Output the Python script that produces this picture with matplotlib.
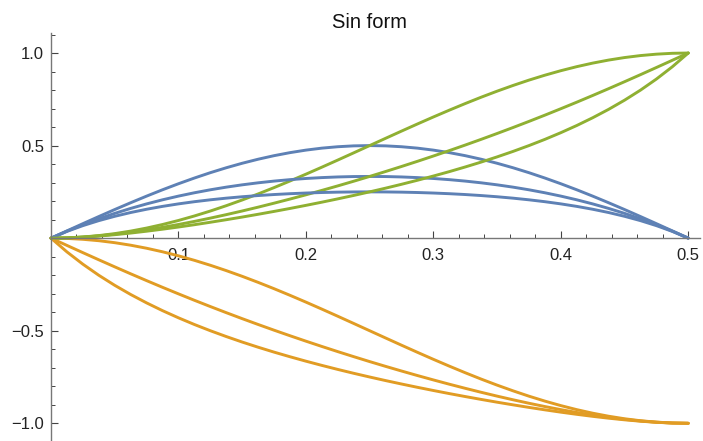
import matplotlib
matplotlib.use("Agg")
import matplotlib.pyplot as plt
from matplotlib.ticker import FixedLocator

plt.rcParams['font.family'] = ['Liberation Sans', 'DejaVu Sans']

# values (x from 0 to 0.5)
x = [0, 0.0125, 0.025, 0.0375, 0.05, 0.0625, 0.075, 0.0875, 0.1, 0.1125, 0.125,
     0.1375, 0.15, 0.1625, 0.175, 0.1875, 0.2, 0.2125, 0.225, 0.2375, 0.25,
     0.2625, 0.275, 0.2875, 0.3, 0.3125, 0.325, 0.3375, 0.35, 0.3625, 0.375,
     0.3875, 0.4, 0.4125, 0.425, 0.4375, 0.45, 0.4625, 0.475, 0.4875, 0.5]

blue_a = [0, .0392, .0782, .1167, .1545, .1913, .2270, .2613, .2939, .3247, .3536,
          .3802, .4045, .4263, .4455, .4619, .4755, .4862, .4938, .4985, .5,
          .4985, .4938, .4862, .4755, .4619, .4455, .4263, .4045, .3802, .3536,
          .3247, .2939, .2613, .2270, .1913, .1545, .1167, .0782, .0392, 0]
blue_b = [0, .0378, .0725, .1045, .1338, .1606, .1850, .2071, .2271, .2451, .2612,
          .2755, .2880, .2989, .3082, .3160, .3223, .3271, .3306, .3327, .3333,
          .3327, .3306, .3271, .3223, .3160, .3082, .2989, .2880, .2755, .2612,
          .2451, .2271, .2071, .1850, .1606, .1338, .1045, .0725, .0378, 0]
blue_c = [0, .0364, .0676, .0946, .1180, .1384, .1561, .1716, .1851, .1969, .2071,
          .2160, .2236, .2301, .2356, .2401, .2437, .2465, .2485, .2496, .25,
          .2496, .2485, .2465, .2437, .2401, .2356, .2301, .2236, .2160, .2071,
          .1969, .1851, .1716, .1561, .1384, .1180, .0946, .0676, .0364, 0]

green_a = [0, .0015, .0062, .0138, .0245, .0381, .0545, .0737, .0955, .1198, .1464,
           .1753, .2061, .2388, .2730, .3087, .3455, .3833, .4218, .4608, .5,
           .5392, .5782, .6167, .6545, .6913, .7270, .7613, .7939, .8247, .8536,
           .8802, .9045, .9263, .9455, .9619, .9755, .9862, .9938, .9985, 1.0]
green_b = [0, .0015, .0057, .0124, .0212, .0319, .0444, .0584, .0738, .0904, .1082,
           .1270, .1467, .1674, .1889, .2111, .2341, .2579, .2823, .3075, .3333,
           .3599, .3871, .4150, .4436, .4729, .5029, .5337, .5653, .5975, .6306,
           .6644, .6991, .7344, .7706, .8074, .8450, .8831, .9218, .9608, 1.0]
green_c = [0, .0014, .0053, .0112, .0187, .0275, .0375, .0484, .0601, .0726, .0858,
           .0996, .1139, .1289, .1444, .1604, .1771, .1943, .2122, .2307, .25,
           .2700, .2909, .3127, .3355, .3593, .3845, .4109, .4389, .4685, .5000,
           .5336, .5697, .6084, .6503, .6957, .7452, .7995, .8594, .9258, 1.0]

orange_a = [0, -.0015, -.0062, -.0138, -.0245, -.0381, -.0545, -.0737, -.0955, -.1198, -.1464,
            -.1753, -.2061, -.2388, -.2730, -.3087, -.3455, -.3833, -.4218, -.4608, -.5,
            -.5392, -.5782, -.6167, -.6545, -.6913, -.7270, -.7613, -.7939, -.8247, -.8536,
            -.8802, -.9045, -.9263, -.9455, -.9619, -.9755, -.9862, -.9938, -.9985, -1.0]
orange_b = [0, -.0392, -.0783, -.1169, -.1550, -.1926, -.2294, -.2656, -.3009, -.3356, -.3694,
            -.4025, -.4348, -.4663, -.4971, -.5271, -.5564, -.5850, -.6129, -.6401, -.6667,
            -.6925, -.7176, -.7421, -.7658, -.7889, -.8111, -.8326, -.8533, -.8730, -.8918,
            -.9096, -.9262, -.9416, -.9556, -.9681, -.9788, -.9876, -.9943, -.9985, -1.0]
orange_c = [0, -.0742, -.1406, -.2005, -.2548, -.3043, -.3497, -.3916, -.4303, -.4664, -.5000,
            -.5315, -.5612, -.5891, -.6156, -.6406, -.6645, -.6873, -.7091, -.7300, -.75,
            -.7693, -.7878, -.8057, -.8229, -.8396, -.8556, -.8711, -.8861, -.9004, -.9142,
            -.9274, -.9399, -.9516, -.9625, -.9725, -.9813, -.9888, -.9947, -.9986, -1.0]

x_major = [0.1, 0.2, 0.3, 0.4, 0.5]
y_major = [-1.0, -0.5, 0.5, 1.0]
title = "Sin form"

BLUE = '#5E81B5'
ORANGE = '#E19C24'
GREEN = '#8FB032'

fig = plt.figure(figsize=(7.03, 4.41), dpi=100)
ax = fig.add_axes([51 / 703, 0.0, 649 / 703, 407.7 / 441])

for b, o, g in [(blue_a, orange_a, green_a), (blue_b, orange_b, green_b), (blue_c, orange_c, green_c)]:
    ax.plot(x, b, color=BLUE, lw=2.1, solid_joinstyle='round', solid_capstyle='round', clip_on=False)
    ax.plot(x, o, color=ORANGE, lw=2.1, solid_joinstyle='round', solid_capstyle='round', clip_on=False)
    ax.plot(x, g, color=GREEN, lw=2.1, solid_joinstyle='round', solid_capstyle='round', clip_on=False)

ax.set_xlim(0, 0.5092)
ax.set_ylim(-1.0957, 1.1065)

# Mathematica-like axes through the origin
ax.spines['left'].set_position(('data', 0))
ax.spines['bottom'].set_position(('data', 0))
ax.spines['top'].set_visible(False)
ax.spines['right'].set_visible(False)
for sp in ['left', 'bottom']:
    ax.spines[sp].set_color('#777777')
    ax.spines[sp].set_linewidth(1.0)

ax.xaxis.set_major_locator(FixedLocator(x_major))
ax.yaxis.set_major_locator(FixedLocator(y_major))
ax.xaxis.set_minor_locator(FixedLocator([v / 100 for v in range(2, 52, 2) if v % 10 != 0]))
ax.yaxis.set_minor_locator(FixedLocator([v / 10 for v in range(-11, 12) if v % 5 != 0]))
ax.set_xticklabels([str(v) for v in x_major])
ax.set_yticklabels(['\u22121.0', '\u22120.5', '0.5', '1.0'])

ax.tick_params(which='major', direction='in', length=5, width=0.8, color='#444444',
               labelsize=12, labelcolor='#222222')
ax.tick_params(which='minor', direction='in', length=3, width=0.7, color='#444444')
ax.tick_params(axis='x', which='major', pad=7)
ax.tick_params(axis='y', which='major', pad=5)

ax.text(0.25, 1.135, title, ha='center', va='baseline', fontsize=14.5, color='#111111', clip_on=False)

fig.savefig('out.png', dpi=100)
